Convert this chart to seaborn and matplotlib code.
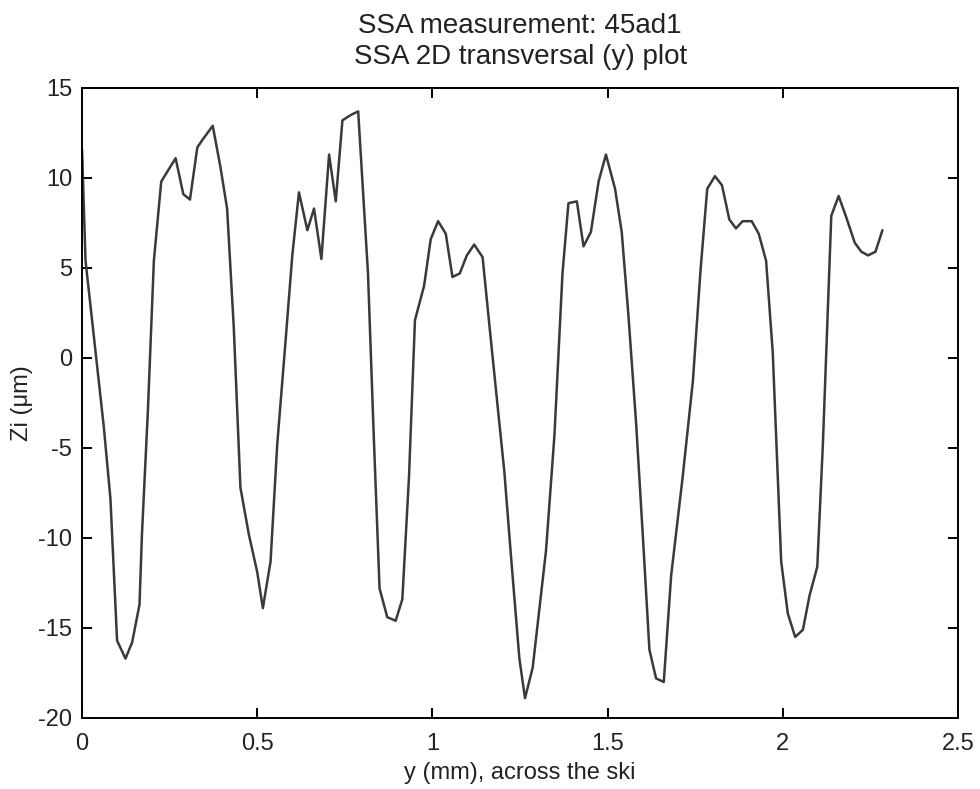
import matplotlib
matplotlib.use("Agg")
import matplotlib.pyplot as plt
import seaborn as sns
import pandas as pd

# Transversal profile across the ski (y in mm, Zi in micrometres)
y_mm = [
    0.000, 0.010, 0.062, 0.081, 0.100, 0.124, 0.143, 0.164, 0.171, 0.188,
    0.205, 0.226, 0.267, 0.289, 0.308, 0.329, 0.343, 0.373, 0.395, 0.414,
    0.433, 0.452, 0.476, 0.500, 0.516, 0.538, 0.557, 0.581, 0.600, 0.619,
    0.643, 0.662, 0.683, 0.705, 0.724, 0.743, 0.767, 0.788, 0.816, 0.832,
    0.849, 0.871, 0.895, 0.914, 0.933, 0.950, 0.976, 0.995, 1.016, 1.038,
    1.057, 1.078, 1.098, 1.119, 1.143, 1.162, 1.186, 1.205, 1.224, 1.248,
    1.264, 1.286, 1.324, 1.348, 1.371, 1.388, 1.412, 1.431, 1.452, 1.474,
    1.495, 1.521, 1.540, 1.559, 1.581, 1.600, 1.619, 1.638, 1.660, 1.681,
    1.714, 1.743, 1.765, 1.784, 1.806, 1.826, 1.847, 1.866, 1.885, 1.911,
    1.931, 1.952, 1.971, 1.995, 2.014, 2.035, 2.057, 2.076, 2.098, 2.114,
    2.138, 2.159, 2.181, 2.205, 2.224, 2.243, 2.264, 2.284,
]
zi_um = [
    11.6, 5.4, -3.8, -7.8, -15.7, -16.7, -15.8, -13.7, -9.8, -2.9,
    5.4, 9.8, 11.1, 9.1, 8.8, 11.7, 12.1, 12.9, 10.6, 8.3,
    1.7, -7.2, -9.8, -11.9, -13.9, -11.3, -4.8, 1.0, 5.7, 9.2,
    7.1, 8.3, 5.5, 11.3, 8.7, 13.2, 13.5, 13.7, 4.7, -4.1,
    -12.8, -14.4, -14.6, -13.4, -6.6, 2.1, 4.0, 6.6, 7.6, 6.9,
    4.5, 4.7, 5.7, 6.3, 5.6, 1.9, -2.7, -6.3, -11.0, -16.7,
    -18.9, -17.2, -10.7, -4.3, 4.7, 8.6, 8.7, 6.2, 7.0, 9.8,
    11.3, 9.4, 7.0, 2.4, -3.6, -9.8, -16.2, -17.8, -18.0, -12.1,
    -6.6, -1.3, 4.9, 9.4, 10.1, 9.6, 7.7, 7.2, 7.6, 7.6,
    6.9, 5.4, 0.3, -11.3, -14.2, -15.5, -15.1, -13.2, -11.6, -4.8,
    7.9, 9.0, 7.8, 6.4, 5.9, 5.7, 5.9, 7.1,
]

x_ticks = [0, 0.5, 1, 1.5, 2, 2.5]
x_tick_labels = ["0", "0.5", "1", "1.5", "2", "2.5"]
y_ticks = [-20, -15, -10, -5, 0, 5, 10, 15]
y_tick_labels = ["-20", "-15", "-10", "-5", "0", "5", "10", "15"]

sns.set_theme(style="white")
plt.rcParams["font.family"] = ["Liberation Sans", "DejaVu Sans"]

profile = pd.DataFrame({"y": y_mm, "zi": zi_um})

fig = plt.figure(figsize=(9.8, 7.89), dpi=100)
ax = fig.add_axes([0.0837, 0.09, 0.894, 0.7985])

sns.lineplot(data=profile, x="y", y="zi", sort=False, ax=ax,
             color="#3a3a3a", linewidth=1.8)

ax.set_xlim(0, 2.5)
ax.set_ylim(-20, 15)
ax.set_xticks(x_ticks)
ax.set_xticklabels(x_tick_labels)
ax.set_yticks(y_ticks)
ax.set_yticklabels(y_tick_labels)

for side in ax.spines.values():
    side.set_color("black")
    side.set_linewidth(1.4)

ax.tick_params(axis="both", which="major", direction="in", length=7,
               width=1.4, color="black", labelsize=17, labelcolor="#222222",
               top=True, right=True, bottom=True, left=True)
ax.tick_params(axis="x", pad=11)
ax.tick_params(axis="y", pad=7)

ax.set_xlabel("y (mm), across the ski", fontsize=17, color="#222222", labelpad=5)
ax.set_ylabel("Zi (μm)", fontsize=17, color="#222222", labelpad=4)
ax.set_title("SSA measurement: 45ad1\nSSA 2D transversal (y) plot",
             fontsize=20, color="#222222", pad=17, linespacing=1.25)

fig.savefig("out.png", dpi=100, facecolor="white")
